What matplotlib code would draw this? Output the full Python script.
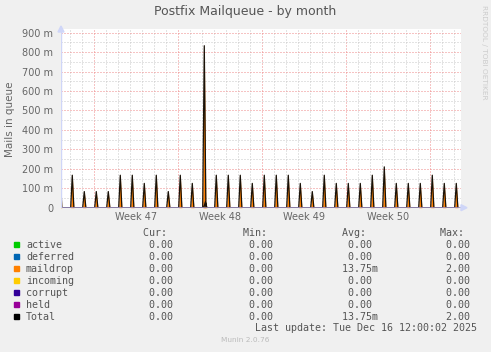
import matplotlib
matplotlib.use("Agg")
import matplotlib.pyplot as plt
import matplotlib.dates as mdates
from datetime import datetime, timedelta

# spikes of the mail queue (maildrop == Total), one per day at ~05:10
first_spike = datetime(2025, 11, 13, 5, 10)
spike_values = [0.167, 0.167, 0.083, 0.083, 0.083, 0.167, 0.167, 0.125, 0.167, 0.083,
                0.167, 0.125, 0.833, 0.167, 0.167, 0.167, 0.125, 0.167, 0.167, 0.167,
                0.125, 0.083, 0.167, 0.125, 0.125, 0.125, 0.167, 0.21, 0.125, 0.125,
                0.125, 0.167, 0.125, 0.125]
extra_times = [datetime(2025, 11, 25, 7, 20)]
extra_values = [0.03]

week_labels = ["Week 47", "Week 48", "Week 49", "Week 50"]
week_mid = [datetime(2025, 11, 19, 12), datetime(2025, 11, 26, 12),
            datetime(2025, 12, 3, 12), datetime(2025, 12, 10, 12)]
y_ticks = [0, 0.1, 0.2, 0.3, 0.4, 0.5, 0.6, 0.7, 0.8, 0.9]
y_labels = ["0", "100 m", "200 m", "300 m", "400 m", "500 m", "600 m", "700 m", "800 m", "900 m"]

series_names = ["active", "deferred", "maildrop", "incoming", "corrupt", "held", "Total"]
series_colors = ["#00CC00", "#0066B3", "#FF8000", "#FFCC00", "#330099", "#990099", "#000000"]
cur_vals = [0, 0, 0, 0, 0, 0, 0]
min_vals = [0, 0, 0, 0, 0, 0, 0]
avg_vals = [0, 0, 0.01375, 0, 0, 0, 0.01375]
max_vals = [0, 0, 2.0, 0, 0, 0, 2.0]

start = datetime(2025, 11, 13, 6, 36)
end = start + timedelta(hours=800)

W, H = 491, 352
sans = ["DejaVu Sans"]
mono = ["DejaVu Sans Mono"]


def fx(x):
    return x / W


def fy(y):
    return 1 - y / H


fig = plt.figure(figsize=(W / 100, H / 100), dpi=100, facecolor="#F0F0F0")
ax = fig.add_axes([fx(61), fy(207.7), 400 / W, 178.7 / H])
ax.set_facecolor("white")

# build spike outlines
times, vals = [], []
pts = [(first_spike + timedelta(days=i), v) for i, v in enumerate(spike_values)]
pts += list(zip(extra_times, extra_values))
pts.sort()
half = timedelta(hours=3.2)
for t, v in pts:
    times += [t - half, t, t + half]
    vals += [0, v, 0]

ax.fill_between(times, vals, 0, color="#FF8000", lw=0, zorder=3)
ax.plot(times, vals, color="#1a1208", lw=0.9, zorder=4)
ax.axhline(0, color="#9C8FC0", lw=1.2, zorder=5)

ax.set_xlim(start, end)
ax.set_ylim(0, 0.919)

ax.xaxis.set_major_locator(mdates.WeekdayLocator(byweekday=mdates.SU))
ax.xaxis.set_minor_locator(mdates.DayLocator())
ax.set_yticks(y_ticks)
ax.set_yticklabels(y_labels)
ax.set_yticks([0.05 + 0.1 * i for i in range(9)], minor=True)
ax.grid(which="minor", color="#C8C8C8", linestyle=(0, (1, 2)), lw=0.72, zorder=1)
ax.grid(which="major", color="#EE8888", linestyle=(0, (1, 2)), lw=0.72, zorder=2)
ax.tick_params(which="both", length=0)
ax.tick_params(axis="x", labelbottom=False)
ax.tick_params(axis="y", pad=5.5, labelsize=7, labelcolor="#666666")
for lab in ax.get_yticklabels():
    lab.set_family(sans)
for s in ax.spines.values():
    s.set_visible(False)
ax.axvline(start, color="#CFD6F8", lw=1, zorder=5)

for t, lab in zip(week_mid, week_labels):
    ax.text(t, -0.022, lab, transform=ax.get_xaxis_transform(), ha="center", va="top",
            fontsize=7, color="#666666", family=sans)

# axis arrows
fig.patches.append(plt.Polygon([[fx(58), fy(32)], [fx(64), fy(32)], [fx(61), fy(26)]],
                               closed=True, color="#CFD6F8", transform=fig.transFigure))
fig.patches.append(plt.Polygon([[fx(461), fy(204.7)], [fx(461), fy(210.7)], [fx(467), fy(207.7)]],
                               closed=True, color="#CFD6F8", transform=fig.transFigure))

fig.text(0.5, fy(11), "Postfix Mailqueue - by month", ha="center", va="center",
         fontsize=9, color="#555555", family=sans)
fig.text(fx(9.7), fy(119), "Mails in queue", rotation=90, ha="center", va="center",
         fontsize=7.5, color="#666666", family=sans)
fig.text(fx(484), fy(5), "RRDTOOL / TOBI OETIKER", rotation=-90, ha="center", va="top",
         fontsize=5.3, color="#CCCCCC", family=sans)


def fmt(v):
    if 0 < v < 1:
        return "%6.2fm" % (v * 1000)
    return "%6.2f " % v


cols = [137, 237, 336, 434]
heads = [" Cur:", " Min:", " Avg:", " Max:"]
for cx, hd in zip(cols, heads):
    fig.text(fx(cx), fy(232.7), hd, ha="left", va="center", fontsize=7.2,
             color="#555555", family=mono)
for i, name in enumerate(series_names):
    y = 244.7 + i * 12
    fig.patches.append(plt.Rectangle((fx(14), fy(y + 2.7)), 5.3 / W, 5.3 / H,
                                     color=series_colors[i], transform=fig.transFigure))
    fig.text(fx(26), fy(y), name, ha="left", va="center", fontsize=7.2,
             color="#555555", family=mono)
    for cx, arr in zip(cols, [cur_vals, min_vals, avg_vals, max_vals]):
        fig.text(fx(cx), fy(y), fmt(arr[i]), ha="left", va="center", fontsize=7.2,
                 color="#555555", family=mono)

fig.text(fx(255), fy(328), "Last update: Tue Dec 16 12:00:02 2025", ha="left", va="center",
         fontsize=7.2, color="#555555", family=mono)
fig.text(fx(245), fy(340), "Munin 2.0.76", ha="center", va="center",
         fontsize=5.3, color="#BBBBBB", family=sans)

fig.savefig("out.png", dpi=100, facecolor=fig.get_facecolor())
